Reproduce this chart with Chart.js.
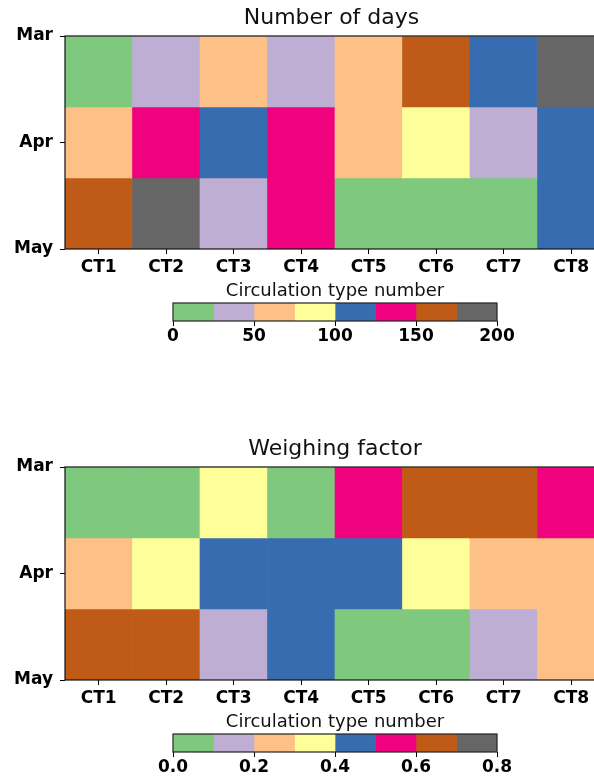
<!DOCTYPE html>
<html>
<head>
<meta charset="utf-8">
<script src="https://cdn.jsdelivr.net/npm/chart.js@4.4.1/dist/chart.umd.min.js"></script>
<style>
  html, body { margin: 0; padding: 0; background: #fff; width: 594px; height: 784px; overflow: hidden; }
  .box { position: absolute; }
</style>
</head>
<body>
<div class="box" style="left:0;top:0"><canvas id="daysMap" width="605" height="310"></canvas></div>
<div class="box" style="left:150px;top:297px"><canvas id="daysBar" width="380" height="60"></canvas></div>
<div class="box" style="left:0;top:431px"><canvas id="weightMap" width="605" height="310"></canvas></div>
<div class="box" style="left:150px;top:728px"><canvas id="weightBar" width="380" height="60"></canvas></div>
<script>
const circTypes = ['CT1', 'CT2', 'CT3', 'CT4', 'CT5', 'CT6', 'CT7', 'CT8'];
const months = ['Mar', 'Apr', 'May'];
const monthTicks = [0, 1.5, 3];

// number of days per circulation type (rows: Mar, Apr, May)
const daysMar = [14, 38, 61, 42, 66, 158, 117, 186];
const daysApr = [57, 141, 108, 133, 63, 84, 35, 112];
const daysMay = [163, 181, 44, 146, 19, 11, 22, 104];
const daysBounds = [0, 25, 50, 75, 100, 125, 150, 175, 200];
const daysTicks = [0, 50, 100, 150, 200];

// weighing factor per circulation type
const weightMar = [0.05, 0.08, 0.34, 0.07, 0.56, 0.63, 0.61, 0.54];
const weightApr = [0.25, 0.33, 0.44, 0.41, 0.46, 0.36, 0.22, 0.27];
const weightMay = [0.62, 0.66, 0.17, 0.43, 0.03, 0.09, 0.14, 0.28];
const weightBounds = [0, 0.1, 0.2, 0.3, 0.4, 0.5, 0.6, 0.7, 0.8];
const weightTicks = [0, 0.2, 0.4, 0.6, 0.8];

// matplotlib "Accent"
const accent = ['#7fc97f', '#beaed4', '#fdc086', '#ffff99', '#386cb0', '#f0027f', '#bf5b17', '#666666'];

Chart.defaults.font.family = "'DejaVu Sans', sans-serif";
Chart.defaults.color = '#000';

const colorOf = (v, bounds) => {
  let i = bounds.findIndex((b) => v < b) - 1;
  if (i < 0) i = accent.length - 1;
  return accent[Math.min(i, accent.length - 1)];
};

// outline round the plot area, like the mpl spines
const frame = {
  id: 'frame',
  afterDatasetsDraw(chart, args, opts) {
    const { ctx, chartArea: a } = chart;
    ctx.save();
    ctx.strokeStyle = opts.color || '#000';
    ctx.lineWidth = opts.width || 1;
    ctx.strokeRect(a.left, a.top, a.right - a.left, a.bottom - a.top);
    ctx.restore();
  },
};

const tickGrid = { display: true, drawOnChartArea: false, offset: false, tickLength: 5, color: '#000' };
const boldTicks = { size: 17, weight: 'bold' };

const heatmap = (id, title, rows, bounds) => {
  const datasets = rows.map((row, r) => ({
    data: row.map(() => [r, r + 1]),
    backgroundColor: row.map((v) => colorOf(v, bounds)),
    borderWidth: 0,
    barPercentage: 1,
    categoryPercentage: 1,
  }));
  return new Chart(document.getElementById(id), {
    type: 'bar',
    data: { labels: circTypes, datasets },
    options: {
      responsive: false,
      animation: false,
      layout: { padding: 0 },
      plugins: {
        legend: { display: false },
        tooltip: { enabled: false },
        title: {
          display: true,
          fullSize: false,
          text: title,
          color: '#111',
          font: { size: 22, weight: 'normal', lineHeight: 1.2 },
          padding: { top: 4.8, bottom: 4.8 },
        },
        frame: { color: '#111', width: 1.2 },
      },
      scales: {
        x: {
          stacked: true,
          grid: tickGrid,
          border: { display: false },
          ticks: { padding: 3, font: boldTicks },
          title: {
            display: true,
            text: 'Circulation type number',
            color: '#111',
            font: { size: 18 },
            padding: { top: 0, bottom: 8 },
          },
          afterFit(s) { s.height = 61; },
        },
        y: {
          min: 0,
          max: 3,
          reverse: true,
          grid: tickGrid,
          border: { display: false },
          ticks: {
            padding: 7,
            font: boldTicks,
            callback(v) { return months[monthTicks.indexOf(v)]; },
          },
          afterBuildTicks(s) { s.ticks = monthTicks.map((v) => ({ value: v })); },
          afterFit(s) { s.width = 65; },
        },
      },
    },
    plugins: [frame],
  });
};

const colorbar = (id, bounds, tickVals, digits) => {
  const datasets = accent.map((c, i) => ({
    data: [[bounds[i], bounds[i + 1]]],
    backgroundColor: c,
    borderWidth: 0,
    barPercentage: 1,
    categoryPercentage: 1,
  }));
  return new Chart(document.getElementById(id), {
    type: 'bar',
    data: { labels: [''], datasets },
    options: {
      indexAxis: 'y',
      responsive: false,
      animation: false,
      layout: { padding: { left: 23, right: 33, top: 6, bottom: 0 } },
      plugins: {
        legend: { display: false },
        tooltip: { enabled: false },
        frame: { color: '#222', width: 1.2 },
      },
      scales: {
        x: {
          min: bounds[0],
          max: bounds[bounds.length - 1],
          grid: tickGrid,
          border: { display: false },
          ticks: {
            padding: 0,
            font: boldTicks,
            callback(v) { return Number(v).toFixed(digits); },
          },
          afterBuildTicks(s) { s.ticks = tickVals.map((v) => ({ value: v })); },
          afterFit(s) { s.height = 36; },
        },
        y: { stacked: true, display: false },
      },
    },
    plugins: [frame],
  });
};

heatmap('daysMap', 'Number of days ', [daysMar, daysApr, daysMay], daysBounds);
colorbar('daysBar', daysBounds, daysTicks, 0);
heatmap('weightMap', 'Weighing factor', [weightMar, weightApr, weightMay], weightBounds);
colorbar('weightBar', weightBounds, weightTicks, 1);
</script>
</body>
</html>
